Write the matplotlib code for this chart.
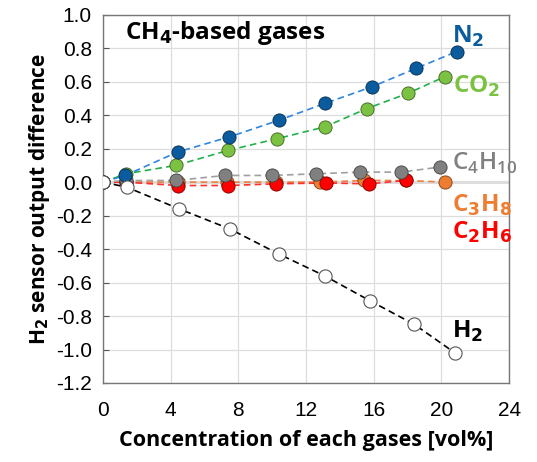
import matplotlib
matplotlib.use("Agg")
import matplotlib.pyplot as plt

plt.rcParams['font.family'] = ['Liberation Sans', 'DejaVu Sans']

# Data (x: vol%, y: H2 sensor output difference)
n2_x = [0, 1.3, 4.4, 7.45, 10.4, 13.1, 15.9, 18.5, 20.9]
n2_y = [0, 0.04, 0.18, 0.27, 0.37, 0.47, 0.57, 0.68, 0.78]

co2_x = [0, 1.35, 4.3, 7.4, 10.3, 13.1, 15.6, 18.0, 20.2]
co2_y = [0, 0.05, 0.10, 0.19, 0.26, 0.33, 0.44, 0.53, 0.63]

c4h10_x = [0, 1.35, 4.3, 7.2, 10.0, 12.6, 15.2, 17.6, 19.9]
c4h10_y = [0, 0.01, 0.01, 0.04, 0.04, 0.05, 0.06, 0.06, 0.09]

c3h8_x = [0, 1.35, 4.4, 7.3, 10.2, 12.8, 15.4, 17.9, 20.2]
c3h8_y = [0, 0.0, 0.0, 0.0, 0.0, 0.0, 0.01, 0.01, 0.0]

c2h6_x = [0, 1.35, 4.4, 7.4, 10.2, 13.2, 15.7, 17.9]
c2h6_y = [0, 0.0, -0.02, -0.02, -0.01, -0.005, -0.01, 0.01]

h2_x = [0, 1.4, 4.5, 7.5, 10.4, 13.1, 15.8, 18.4, 20.8]
h2_y = [0, -0.03, -0.16, -0.28, -0.43, -0.56, -0.71, -0.85, -1.02]

x_ticks = [0, 4, 8, 12, 16, 20, 24]
y_ticks = [1.0, 0.8, 0.6, 0.4, 0.2, 0.0, -0.2, -0.4, -0.6, -0.8, -1.0, -1.2]

fig = plt.figure(figsize=(5.37, 4.62), dpi=100)
ax = fig.add_axes([0.192, 0.171, 0.756, 0.797])

# series: x, y, line colour, marker face, marker edge
series = [
    (c3h8_x, c3h8_y, '#F08040', '#ED7D31', '#7a3c10'),
    (c2h6_x, c2h6_y, '#FF3030', '#FF0000', '#7a0000'),
    (c4h10_x, c4h10_y, '#A0A0A0', '#808080', '#404040'),
    (co2_x, co2_y, '#22B04B', '#7CC242', '#3d6020'),
    (n2_x, n2_y, '#2E86DE', '#0B5C9E', '#052a4a'),
]
for xs, ys, lc, fc, ec in series:
    ax.plot(xs, ys, linestyle=(0, (4, 2.5)), color=lc, lw=1.2, zorder=2)
    ax.plot(xs, ys, linestyle='none', marker='o', ms=9.5, mfc=fc, mec=ec,
            mew=0.6, zorder=3)

ax.plot(h2_x, h2_y, linestyle=(0, (4, 2.5)), color='black', lw=1.2, zorder=2)
ax.plot(h2_x, h2_y, linestyle='none', marker='o', ms=9.5, mfc='white',
        mec='#555555', mew=0.8, zorder=3)

ax.set_xlim(0, 24)
ax.set_ylim(-1.2, 1.0)
ax.set_xticks(x_ticks)
ax.set_yticks(y_ticks)
ax.set_yticklabels([f'{v:.1f}' for v in y_ticks])
ax.tick_params(axis='both', labelsize=15, direction='in', length=4,
               colors='#555555', labelcolor='black', pad=8)
ax.tick_params(axis='x', length=0, pad=13)
ax.grid(True, color='#DDDDDD', lw=0.9, zorder=0)
ax.axhline(0, color='#555555', lw=1.0, zorder=1)
for s in ax.spines.values():
    s.set_color('#777777')
    s.set_linewidth(1.0)

bold = dict(fontweight='bold', family=['Open Sans', 'DejaVu Sans'])
ax.set_xlabel('Concentration of each gases [vol%]', fontsize=15.5, labelpad=7, **bold)
ax.set_ylabel('H$_\\mathbf{2}$ sensor output difference', fontsize=15, labelpad=3, **bold)

ax.text(1.3, 0.89, 'CH$_\\mathbf{4}$-based gases', fontsize=17.5, va='center', ha='left', **bold)
ax.text(20.6, 0.87, 'N$_\\mathbf{2}$', fontsize=17.5, color='#0B5C9E', va='center', **bold)
ax.text(20.7, 0.57, 'CO$_\\mathbf{2}$', fontsize=17.5, color='#7CC242', va='center', **bold)
ax.text(20.6, 0.11, 'C$_\\mathregular{4}$H$_\\mathregular{10}$', fontsize=17.5, color='#808080',
        va='center', family=['Open Sans', 'DejaVu Sans'], fontweight='semibold')
ax.text(20.6, -0.14, 'C$_\\mathbf{3}$H$_\\mathbf{8}$', fontsize=17.5, color='#ED7D31', va='center', **bold)
ax.text(20.6, -0.30, 'C$_\\mathbf{2}$H$_\\mathbf{6}$', fontsize=17.5, color='#FF0000', va='center', **bold)
ax.text(20.6, -0.89, 'H$_\\mathbf{2}$', fontsize=17.5, color='black', va='center', **bold)

fig.savefig('out.png', dpi=100)
